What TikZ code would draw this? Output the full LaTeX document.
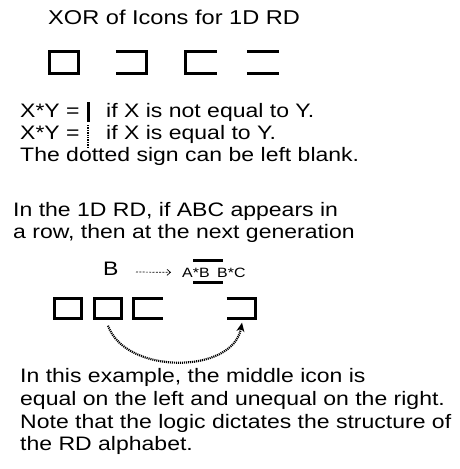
\documentclass[tikz,border=0pt]{standalone}
\usepackage{fontspec}
\usepackage{graphicx}
\setmainfont{Liberation Sans}
\usetikzlibrary{arrows.meta}
\newcommand{\hs}[1]{\scalebox{1.18}[1]{#1}}
\begin{document}
\begin{tikzpicture}[x=1pt,y=-1pt,
  txt/.style={anchor=base west, inner sep=0pt, font=\fontsize{19.5}{22}\selectfont},
  ttl/.style={anchor=base west, inner sep=0pt, font=\fontsize{20}{24}\selectfont},
  small/.style={anchor=base west, inner sep=0pt, font=\fontsize{13.5}{15}\selectfont},
  iconA/.style={inner sep=0pt, minimum width=29pt, minimum height=22pt},
  iconB/.style={inner sep=0pt, minimum width=27.5pt, minimum height=20pt},
  stroke/.style={line width=3pt, line cap=butt, line join=miter},
  dasharrow/.style={line width=0.7pt, dash pattern=on 2pt off 1.3pt, -{Straight Barb[length=3.5pt,width=6pt]}},
  dotarrow/.style={line width=2.2pt, dash pattern=on 1.1pt off 0.9pt, -{Stealth[length=9pt,width=8pt]}}
]
\useasboundingbox (0,0) rectangle (459,469);

% title
\node[ttl] (title) at (48,24) {\hs{XOR of Icons for 1D RD}};

% first row of icons
\node[iconA] (i1) at (64,62.5) {};
\node[iconA] (i2) at (132,62.5) {};
\node[iconA] (i3) at (200.5,62.5) {};
\node[iconA] (i4) at (263,62.5) {};
\draw[stroke] (i1.north west) rectangle (i1.south east);
\draw[stroke] ([xshift=-1.5pt]i2.north west) -- (i2.north east) -- (i2.south east) -- ([xshift=-1.5pt]i2.south west);
\draw[stroke] ([xshift=1.5pt]i3.north east) -- (i3.north west) -- (i3.south west) -- ([xshift=1.5pt]i3.south east);
\draw[stroke] ([xshift=-1.5pt]i4.north west) -- ([xshift=1.5pt]i4.north east);
\draw[stroke] ([xshift=-1.5pt]i4.south west) -- ([xshift=1.5pt]i4.south east);

% rules
\node[txt] (l1a) at (20,117) {\hs{X*Y =}};
\node[txt] (l1b) at (106,117) {\hs{if X is not equal to Y.}};
\node[txt] (l2a) at (20,139) {\hs{X*Y =}};
\node[txt] (l2b) at (106,139) {\hs{if X is equal to Y.}};
\draw[line width=3pt] (88,102) -- (88,122);
\draw[line width=2pt, dash pattern=on 1.4pt off 1pt] (88,125) -- (88,148);
\node[txt] (l3) at (20,161) {\hs{The dotted sign can be left blank.}};

\node[txt] (l4) at (13,216) {\hs{In the 1D RD, if ABC appears in}};
\node[txt] (l5) at (13,238) {\hs{a row, then at the next generation}};

% example
\node[txt] (B) at (103,275) {\hs{B}};
\node[small] (ab) at (182,277) {\hs{A*B}};
\node[small] (bc) at (217,277) {\hs{B*C}};
\coordinate (dstart) at (136,272);
\draw[dasharrow] (dstart) -- ([xshift=-11pt]ab.west);
\draw[stroke] (193,260) -- (223,260);
\draw[stroke] (193,282) -- (223,282);

\node[iconB] (b1) at (68,308.5) {};
\node[iconB] (b2) at (108,308.5) {};
\node[iconB] (b3) at (147.5,308.5) {};
\node[iconB] (b4) at (242,308.5) {};
\draw[stroke] (b1.north west) rectangle (b1.south east);
\draw[stroke] (b2.north west) rectangle (b2.south east);
\draw[stroke] ([xshift=1.5pt]b3.north east) -- (b3.north west) -- (b3.south west) -- ([xshift=1.5pt]b3.south east);
\draw[stroke] ([xshift=-1.5pt]b4.north west) -- (b4.north east) -- (b4.south east) -- ([xshift=-1.5pt]b4.south west);
\draw[dotarrow] ([yshift=-7pt]b2.south) to[out=-70,in=-100] ([yshift=-4pt]b4.south);

% explanation
\node[txt] (p1) at (20,382) {\hs{In this example, the middle icon is}};
\node[txt] (p2) at (20,405) {\hs{equal on the left and unequal on the right.}};
\node[txt] (p3) at (20,428) {\hs{Note that the logic dictates the structure of}};
\node[txt] (p4) at (20,450) {\hs{the RD alphabet.}};
\end{tikzpicture}
\end{document}
